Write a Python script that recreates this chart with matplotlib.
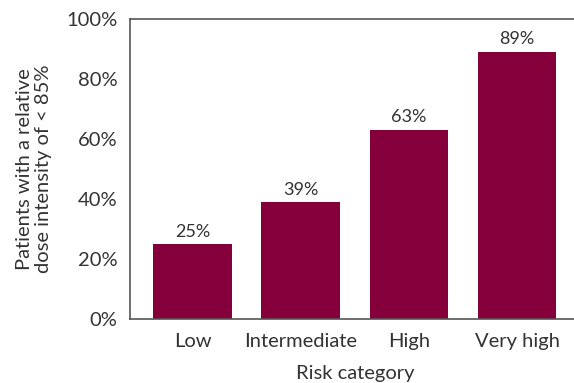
import matplotlib
matplotlib.use("Agg")
import matplotlib.pyplot as plt
from matplotlib.ticker import FuncFormatter

categories = ["Low", "Intermediate", "High", "Very high"]
values = [25, 39, 63, 89]
labels = ["25%", "39%", "63%", "89%"]

plt.rcParams['font.family'] = ['Lato', 'DejaVu Sans']
text_col = "#333333"

fig = plt.figure(figsize=(5.74, 3.83), dpi=100)
ax = fig.add_axes([130 / 574, 1 - 319 / 383, 1 - 130 / 574 + 0.01, 300 / 383])

x = list(range(len(categories)))
bars = ax.bar(x, values, width=0.727, color="#85003a")
for b, lab in zip(bars, labels):
    ax.text(b.get_x() + b.get_width() / 2, b.get_height() + 1.5, lab,
            ha="center", va="bottom", fontsize=13, color=text_col)

ax.set_xlim(-0.578, 3.58)
ax.set_ylim(0, 100)
ax.set_yticks([0, 20, 40, 60, 80, 100])
ax.yaxis.set_major_formatter(FuncFormatter(lambda v, p: f"{v:.0f}%"))
ax.set_xticks(x)
ax.set_xticklabels(categories)
ax.tick_params(length=0, labelsize=14.5, colors=text_col)
ax.tick_params(axis="y", pad=9)
ax.tick_params(axis="x", pad=10)

for s in ["left", "bottom", "top", "right"]:
    ax.spines[s].set_color("#555555")
    ax.spines[s].set_linewidth(1.2)

ax.set_xlabel("Risk category", fontsize=14.5, color=text_col, labelpad=11)
ax.set_ylabel("Patients with a relative\ndose intensity of < 85%", fontsize=14.5,
              color=text_col, labelpad=10)

fig.savefig("out.png", dpi=100)
